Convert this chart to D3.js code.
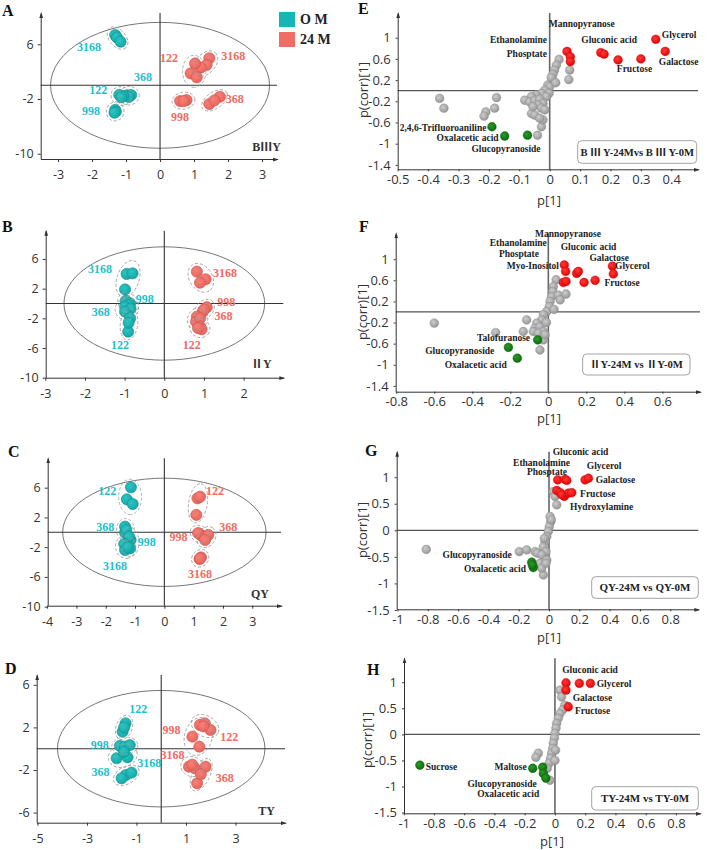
<!DOCTYPE html>
<html><head><meta charset="utf-8">
<script src="https://cdn.jsdelivr.net/npm/d3@7"></script>
<style>body{margin:0;background:#fff}</style>
</head><body>
<svg id="c" width="709" height="850"></svg>
<script>
// ---------- DATA ----------
const TIME_SERIES = ["O M", "24 M"];
// PCA score points: [sample, t[1], t[2]]
const A_0M = [["3168",-1.32,7.35],["3168",-1.27,7.0],["3168",-1.16,6.38],["368",-0.97,-1.45],["368",-0.85,-1.42],["368",-0.92,-1.7],["122",-1.2,-1.4],["122",-1.08,-1.55],["122",-1.14,-1.75],["998",-1.32,-3.6],["998",-1.3,-3.85],["998",-1.34,-4.0]];
const A_24M = [["3168",1.45,3.95],["3168",1.37,2.97],["3168",1.2,2.6],["122",1.03,3.2],["122",0.9,1.75],["122",1.08,1.17],["998",0.59,-2.3],["998",0.78,-2.15],["998",0.7,-2.3],["368",1.76,-1.67],["368",1.45,-2.73],["368",1.6,-2.2]];
const B_0M = [["3168",-0.95,3.98],["3168",-0.8,4.07],["3168",-0.99,1.9],["998",-0.97,0.38],["998",-0.86,0.02],["998",-0.9,-0.2],["368",-0.99,-0.43],["368",-0.85,-0.7],["368",-0.99,-1.1],["122",-0.86,-2.0],["122",-0.91,-3.8],["122",-0.9,-2.6]];
const B_24M = [["3168",0.82,4.29],["3168",1.04,3.26],["3168",0.9,2.8],["998",1.07,-0.5],["998",0.97,-1.1],["998",1.0,-0.8],["368",0.82,-1.77],["368",0.8,-2.45],["368",0.9,-2.0],["122",0.9,-3.1],["122",0.94,-3.48],["122",0.85,-3.3]];
const C_0M = [["122",-1.14,6.05],["122",-1.28,4.43],["122",-1.08,3.8],["368",-1.34,0.76],["368",-1.34,-0.05],["368",-1.3,0.3],["998",-1.15,-1.04],["998",-1.2,-0.6],["998",-1.17,-2.16],["3168",-1.37,-1.58],["3168",-1.34,-2.38],["3168",-1.25,-2.0]];
const C_24M = [["122",1.13,4.57],["122",1.22,4.79],["122",1.09,2.34],["998",1.2,-0.22],["998",1.25,-0.4],["998",1.15,-0.1],["368",1.42,-0.58],["368",1.5,-0.36],["368",1.39,-1.03],["3168",1.25,-3.37],["3168",1.2,-3.6],["3168",1.22,-3.5]];
const D_0M = [["122",-1.44,2.38],["122",-1.56,1.6],["122",-1.5,2.0],["998",-1.67,0.26],["998",-1.47,0.2],["998",-1.27,0.34],["3168",-1.8,-0.9],["3168",-1.36,-0.81],["3168",-1.5,-0.3],["368",-1.43,-2.47],["368",-1.6,-2.78],["368",-1.2,-2.25]];
const D_24M = [["122",1.56,2.23],["122",1.76,2.38],["122",1.99,1.76],["998",1.26,1.13],["998",1.54,0.19],["998",1.7,2.1],["3168",1.12,-1.69],["3168",1.36,-1.84],["3168",1.25,-1.5],["368",1.79,-1.69],["368",1.45,-3.25],["368",1.6,-2.4]];
// sample-name labels: [text, t1, t2]
const A_LAB0 = [["3168",-2.09,5.6],["368",-0.5,1.21],["122",-1.82,-0.69],["998",-2.03,-3.76]];
const A_LAB24 = [["122",0.26,3.99],["3168",2.15,4.28],["998",0.59,-4.63],["368",2.2,-2.0]];
const B_LAB0 = [["3168",-1.62,4.74],["998",-0.49,0.7],["368",-1.6,-1.1],["122",-1.12,-5.59]];
const B_LAB24 = [["3168",1.53,4.07],["998",1.56,0.24],["368",1.49,-1.68],["122",0.69,-5.59]];
const C_LAB0 = [["122",-1.95,5.55],["368",-2.02,0.75],["998",-0.6,-1.26],["3168",-1.68,-4.49]];
const C_LAB24 = [["122",1.73,5.55],["368",2.18,0.75],["998",0.48,-0.59],["3168",1.22,-5.6]];
const D_LAB0 = [["122",-0.93,3.7],["998",-2.48,0.41],["3168",-0.48,-1.37],["368",-2.45,-2.16]];
const D_LAB24 = [["998",0.42,1.76],["122",2.75,1.13],["3168",0.46,-0.59],["368",2.57,-2.78]];
// Hotelling ellipse half-axes [t1, t2]
const A_ELL = [3.22,9.2], B_ELL = [2.53,7.64], C_ELL = [3.47,7.28], D_ELL = [4.19,5.47];
// PCA tick labels
const A_XT = [-3,-2,-1,0,1,2,3], A_YT = [6,-2,-10];
const B_XT = [-3,-2,-1,0,1,2], B_YT = [6,2,-2,-6,-10];
const C_XT = [-4,-3,-2,-1,0,1,2,3], C_YT = [6,2,-2,-6,-10];
const D_XT = [-5,-3,-1,1,3], D_YT = [6,2,-2,-6];

// S-plot loadings: [p[1], p(corr)[1]]
const E_GRAY = [[-0.362,-0.145],[-0.348,-0.33],[-0.175,-0.13],[-0.181,-0.33],[-0.21,-0.4],[-0.216,-0.48],[-0.04,-0.84],[-0.027,-0.68],[-0.022,-0.55],[-0.06,-0.43],[0.031,0.59],[0.022,0.48],[0.016,0.39],[0.011,0.31],[0.009,0.21],[-0.006,0.11],[0.0,0.075],[-0.016,0.01],[-0.002,-0.05],[-0.027,-0.05],[-0.044,-0.08],[-0.011,-0.11],[-0.06,-0.11],[-0.082,-0.18],[-0.066,-0.21],[-0.049,-0.18],[-0.033,-0.16],[-0.022,-0.24],[-0.038,-0.27],[-0.055,-0.30],[-0.027,-0.33],[-0.016,-0.36],[-0.049,-0.46],[-0.033,-0.52],[0.066,0.39],[0.063,0.21],[0.005,0.25],[0.02,0.15]];
const E_RED = [[0.057,0.74],[0.068,0.64],[0.068,0.55],[0.168,0.72],[0.179,0.69],[0.225,0.58],[0.30,0.60],[0.349,0.97],[0.38,0.74]];
const E_GREEN = [[-0.19,-0.68],[-0.148,-0.855],[-0.073,-0.84]];
const F_GRAY = [[-0.6,-0.21],[-0.277,-0.39],[-0.114,-0.15],[-0.132,-0.37],[-0.044,-0.72],[-0.026,-0.53],[0.041,0.61],[0.026,0.48],[0.023,0.39],[0.018,0.29],[0.053,0.32],[0.062,0.23],[0.093,0.34],[0.009,0.2],[0.005,0.1],[-0.008,0.01],[-0.026,-0.05],[-0.035,-0.15],[-0.061,-0.21],[-0.07,-0.31],[-0.079,-0.37],[-0.044,-0.28],[-0.026,-0.37],[-0.053,-0.40],[-0.017,-0.43],[0.03,0.05],[-0.01,-0.2]];
const F_RED = [[0.084,0.89],[0.091,0.77],[0.079,0.56],[0.093,0.58],[0.149,0.73],[0.158,0.77],[0.188,0.56],[0.246,0.6],[0.337,0.87],[0.342,0.72]];
const F_GREEN = [[-0.21,-0.67],[-0.163,-0.875],[-0.056,-0.53]];
const G_GRAY = [[-0.81,-0.36],[-0.196,-0.40],[-0.147,-0.37],[-0.092,-0.4],[-0.077,-0.43],[-0.037,-0.84],[0.028,0.73],[0.04,0.64],[0.051,0.48],[0.007,0.26],[0.011,0.16],[0.002,0.07],[-0.005,-0.02],[-0.015,-0.12],[-0.026,-0.21],[-0.038,-0.31],[-0.02,-0.40],[-0.048,-0.46],[-0.015,-0.56],[-0.059,-0.62],[-0.048,-0.71],[0.015,0.2],[-0.03,-0.15],[-0.02,-0.62]];
const G_RED = [[0.057,0.95],[0.106,0.96],[0.117,0.94],[0.238,0.95],[0.26,0.98],[0.051,0.75],[0.073,0.71],[0.101,0.64],[0.127,0.70],[0.15,0.71],[0.084,0.67]];
const G_GREEN = [[-0.114,-0.6],[-0.104,-0.70],[-0.11,-0.65]];
const H_GRAY = [[0.033,0.85],[0.044,0.72],[0.066,0.56],[0.051,0.47],[0.033,0.40],[0.022,0.31],[0.011,0.21],[0.007,0.12],[0,0.02],[-0.004,-0.07],[-0.011,-0.17],[-0.015,-0.27],[-0.022,-0.36],[-0.029,-0.46],[-0.038,-0.55],[-0.051,-0.65],[-0.033,-0.88],[-0.11,-0.36],[-0.126,-0.44],[0.004,-0.3],[0.0,-0.5]];
const H_RED = [[0.073,0.99],[0.161,0.98],[0.234,0.98],[0.073,0.85],[0.088,0.53]];
const H_GREEN = [[-0.893,-0.59],[-0.147,-0.65],[-0.081,-0.63],[-0.077,-0.75],[-0.06,-0.84]];
// metabolite labels: [text, p1, pcorr, anchor]
const E_LAB = [["Mannopyranose",-0.003,1.26,"start"],["Ethanolamine",-0.009,0.97,"end"],["Phosptate",-0.009,0.69,"end"],["Gluconic acid",0.104,0.97,"start"],["Glycerol",0.369,1.05,"start"],["Galactose",0.359,0.54,"start"],["Fructose",0.221,0.42,"start"],["2,4,6-Trifluoroaniline",-0.208,-0.69,"end"],["Oxalacetic acid",-0.168,-0.89,"end"],["Glucopyranoside",-0.03,-1.1,"end"]];
const F_LAB = [["Mannopyranose",-0.07,1.49,"start"],["Ethanolamine",-0.008,1.32,"end"],["Phosptate",-0.049,1.11,"end"],["Myo-Inositol",0.056,0.88,"end"],["Gluconic acid",0.065,1.24,"start"],["Galactose",0.216,1.03,"start"],["Glycerol",0.351,0.87,"start"],["Fructose",0.295,0.56,"start"],["Talofuranose",-0.096,-0.48,"end"],["Glucopyranoside",-0.284,-0.74,"end"],["Oxalacetic acid",-0.219,-0.99,"end"]];
const G_LAB = [["Gluconic acid",0.024,1.48,"start"],["Ethanolamine",0.139,1.28,"end"],["Phosptate",0.119,1.11,"end"],["Glycerol",0.249,1.22,"start"],["Galactose",0.308,0.95,"start"],["Fructose",0.205,0.69,"start"],["Hydroxylamine",0.139,0.45,"start"],["Glucopyranoside",-0.246,-0.45,"end"],["Oxalacetic acid",-0.152,-0.73,"end"]];
const H_LAB = [["Gluconic acid",0.048,1.24,"start"],["Glycerol",0.276,0.97,"start"],["Galactose",0.117,0.70,"start"],["Fructose",0.132,0.45,"start"],["Sucrose",-0.855,-0.61,"start"],["Maltose",-0.187,-0.62,"end"],["Glucopyranoside",-0.121,-0.94,"end"],["Oxalacetic acid",-0.104,-1.14,"end"]];
const EF_XT_E = [-0.5,-0.4,-0.3,-0.2,-0.1,0,0.1,0.2,0.3,0.4];
const EF_XT_F = [-0.8,-0.6,-0.4,-0.2,0,0.2,0.4,0.6];
const EF_YT = [1,0.6,0.2,-0.2,-0.6,-1,-1.4];
const GH_XT = [-1,-0.8,-0.6,-0.4,-0.2,0,0.2,0.4,0.6,0.8];
const GH_YT = [1,0.5,0,-0.5,-1,-1.5];
const COMPARISONS = ["B Ⅲ Y-24Mvs B Ⅲ Y-0M","ⅡY-24M vs ⅡY-0M","QY-24M vs QY-0M","TY-24M vs TY-0M"];

// ---------- DRAW ----------
const svg = d3.select("#c");
svg.append("rect").attr("width",709).attr("height",850).attr("fill","#fff");
const defs = svg.append("defs");
defs.append("marker").attr("id","arr").attr("viewBox","0 0 8 8").attr("refX",6).attr("refY",4)
  .attr("markerWidth",6).attr("markerHeight",6).attr("orient","auto").attr("markerUnits","userSpaceOnUse")
  .append("path").attr("d","M0,1.5L8,4L0,6.5z").attr("fill","#333");
function grad(id,c0,c1){
  const gr = defs.append("radialGradient").attr("id",id).attr("cx","40%").attr("cy","38%").attr("r","65%");
  gr.append("stop").attr("offset","0%").attr("stop-color",c0);
  gr.append("stop").attr("offset","100%").attr("stop-color",c1);
}
grad("gGray","#cccccc","#949494");
grad("gRed","#ff3a3a","#e50000");
grad("gGreen","#2a9a2a","#0c6a0c");
grad("gTeal","#2cc6c4","#14a6a4");
grad("gSal","#f4827a","#e9625a");

const TEAL = "#17b6b6", SAL = "#ef6d65", TEAL_T = "#1fbfca", SAL_T = "#f06b61";
const SERIF = "'Liberation Serif','Times New Roman',serif";
const SANS = "'Open Sans','DejaVu Sans',sans-serif";
const ROMAN = "'Noto Sans CJK SC','Noto Sans CJK JP',serif";

// text with Roman numerals rendered in a CJK font
function rich(sel, str){
  str.split(/([ⅡⅢ])/).filter(s=>s.length).forEach(s=>{
    const t = sel.append("tspan").text(s);
    if (/[ⅡⅢ]/.test(s)) t.attr("font-family",ROMAN).attr("font-weight","bold");
  });
}

function styleAxis(a, fs){
  a.attr("font-family",SANS).attr("font-size",fs);
  a.selectAll("text").attr("fill","#333");
  a.selectAll("line").attr("stroke","#333");
  a.select(".domain").attr("stroke","#333").attr("marker-end","url(#arr)");
}

function drawPCA(c){
  const g = svg.append("g");
  const x = d3.scaleLinear().domain(c.xd).range(c.xr);
  const y = d3.scaleLinear().domain(c.yd).range(c.yr);
  g.append("ellipse").attr("cx",x(0)).attr("cy",y(0)).attr("rx",x(c.ell[0])-x(0)).attr("ry",y(0)-y(c.ell[1]))
    .attr("fill","none").attr("stroke","#666").attr("stroke-width",0.9);
  g.append("line").attr("x1",x(0)).attr("x2",x(0)).attr("y1",c.yr[1]).attr("y2",c.yr[0]).attr("stroke","#333").attr("stroke-width",1.1);
  g.append("line").attr("x1",c.xr[0]).attr("x2",c.xr[1]).attr("y1",y(0)).attr("y2",y(0)).attr("stroke","#333").attr("stroke-width",1.1);
  const xa = g.append("g").attr("transform",`translate(0,${c.yr[0]})`)
    .call(d3.axisBottom(x).tickValues(c.xt).tickSize(3).tickSizeOuter(0).tickPadding(8).tickFormat(d=>String(d)));
  styleAxis(xa,12.5);
  const ya = g.append("g").attr("transform",`translate(${c.xr[0]},0)`)
    .call(d3.axisLeft(y).tickValues(c.yt).tickSize(3).tickSizeOuter(0).tickPadding(4).tickFormat(d=>String(d)));
  styleAxis(ya,12.5);
  const R = 5.6;
  [[c.d0,"url(#gTeal)","#0f9190"],[c.d24,"url(#gSal)","#c9554e"]].forEach(([data,fill,stroke])=>{
    g.append("g").selectAll("circle").data(data).join("circle")
      .attr("cx",d=>x(d[1])).attr("cy",d=>y(d[2])).attr("r",R)
      .attr("fill",fill).attr("stroke",stroke).attr("stroke-width",0.6);
  });
  [c.d0,c.d24].forEach(data=>{
    d3.group(data,d=>d[0]).forEach(pts=>{
      const P = pts.map(d=>[x(d[1]),y(d[2])]);
      const mx = d3.mean(P,p=>p[0]), my = d3.mean(P,p=>p[1]);
      let sxx=0,syy=0,sxy=0;
      P.forEach(p=>{const dx=p[0]-mx,dy=p[1]-my;sxx+=dx*dx;syy+=dy*dy;sxy+=dx*dy;});
      const th = 0.5*Math.atan2(2*sxy,sxx-syy);
      const ct=Math.cos(th), st=Math.sin(th);
      let mu=0,mv=0;
      P.forEach(p=>{const dx=p[0]-mx,dy=p[1]-my;mu=Math.max(mu,Math.abs(dx*ct+dy*st));mv=Math.max(mv,Math.abs(-dx*st+dy*ct));});
      g.append("ellipse").attr("transform",`translate(${mx},${my}) rotate(${th*180/Math.PI})`)
        .attr("rx",mu+R+2.5).attr("ry",mv+R+2.5).attr("fill","none")
        .attr("stroke","#9a9a9a").attr("stroke-width",0.8).attr("stroke-dasharray","3,2");
    });
  });
  [[c.l0,TEAL_T],[c.l24,SAL_T]].forEach(([labs,col])=>{
    g.append("g").selectAll("text").data(labs).join("text")
      .attr("x",d=>x(d[1])).attr("y",d=>y(d[2])).attr("dy","0.35em").attr("text-anchor","middle")
      .attr("font-family",SERIF).attr("font-weight","bold").attr("font-size",12).attr("fill",col).text(d=>d[0]);
  });
  const tg = g.append("text").attr("x",c.tp[0]).attr("y",c.tp[1]).attr("dy","0.35em").attr("text-anchor","end")
    .attr("font-family",SERIF).attr("font-weight","bold").attr("font-size",12).attr("fill","#333");
  rich(tg, c.tag);
  g.append("text").attr("x",c.lp[0]).attr("y",c.lp[1]).attr("font-family",SERIF).attr("font-weight","bold")
    .attr("font-size",16).attr("fill","#111").text(c.letter);
}

function drawS(c){
  const g = svg.append("g");
  const x = d3.scaleLinear().domain(c.xd).range(c.xr);
  const y = d3.scaleLinear().domain(c.yd).range(c.yr);
  g.append("line").attr("x1",x(0)).attr("x2",x(0)).attr("y1",c.yr[1]).attr("y2",c.yr[0]).attr("stroke","#666").attr("stroke-width",1.6);
  g.append("line").attr("x1",c.xr[0]).attr("x2",c.xr[1]).attr("y1",y(0)).attr("y2",y(0)).attr("stroke","#555").attr("stroke-width",1.2);
  const xa = g.append("g").attr("transform",`translate(0,${c.yr[0]})`)
    .call(d3.axisBottom(x).tickValues(c.xt).tickSize(2).tickSizeOuter(0).tickPadding(3).tickFormat(d=>String(d)));
  styleAxis(xa,13);
  const ya = g.append("g").attr("transform",`translate(${c.xr[0]},0)`)
    .call(d3.axisLeft(y).tickValues(c.yt).tickSize(2).tickSizeOuter(0).tickPadding(5).tickFormat(d=>String(d)));
  styleAxis(ya,13);
  const R = 4.4;
  [[c.gray,"url(#gGray)","#8a8a8a"],[c.red,"url(#gRed)","#d00000"],[c.green,"url(#gGreen)","#0a5f0a"]].forEach(([data,fill,st])=>{
    g.append("g").selectAll("circle").data(data).join("circle")
      .attr("cx",d=>x(d[0])).attr("cy",d=>y(d[1])).attr("r",R).attr("fill",fill).attr("stroke",st).attr("stroke-width",0.4);
  });
  g.append("g").selectAll("text").data(c.labs).join("text")
    .attr("x",d=>x(d[1])).attr("y",d=>y(d[2])).attr("dy","0.35em").attr("text-anchor",d=>d[3])
    .attr("font-family",SERIF).attr("font-weight","bold").attr("font-size",9.5).attr("fill","#222").text(d=>d[0]);
  // comparison box
  const b = c.box;
  g.append("rect").attr("x",b[0]).attr("y",b[1]).attr("width",b[2]).attr("height",b[3]).attr("rx",4)
    .attr("fill","#fff").attr("stroke","#999").attr("stroke-width",0.9);
  const bt = g.append("text").attr("x",b[0]+b[2]/2).attr("y",b[1]+b[3]/2).attr("dy","0.35em").attr("text-anchor","middle")
    .attr("font-family",SERIF).attr("font-weight","bold").attr("font-size",b[4]).attr("fill","#222");
  rich(bt, c.title);
  g.append("text").attr("x",c.xlab[0]).attr("y",c.xlab[1]).attr("dy","0.35em").attr("text-anchor","middle")
    .attr("font-family",SANS).attr("font-size",13).attr("fill","#333").text("p[1]");
  g.append("text").attr("transform",`translate(${c.ylab[0]},${c.ylab[1]}) rotate(-90)`).attr("dy","0.35em").attr("text-anchor","middle")
    .attr("font-family",SANS).attr("font-size",13).attr("fill","#333").text("p(corr)[1]");
  g.append("text").attr("x",c.lp[0]).attr("y",c.lp[1]).attr("font-family",SERIF).attr("font-weight","bold")
    .attr("font-size",16).attr("fill","#111").text(c.letter);
}

drawPCA({letter:"A",lp:[2,16],xd:[-3.51,3.44],xr:[40.7,277],yd:[-10.77,10.57],yr:[159,13],xt:A_XT,yt:A_YT,ell:A_ELL,tag:"BⅢY",tp:[281,147],d0:A_0M,d24:A_24M,l0:A_LAB0,l24:A_LAB24});
drawPCA({letter:"B",lp:[2,232],xd:[-2.99,3.0],xr:[45.7,283.3],yd:[-10,9.81],yr:[377.7,230.7],xt:B_XT,yt:B_YT,ell:B_ELL,tag:"ⅡY",tp:[271.7,363.3],d0:B_0M,d24:B_24M,l0:B_LAB0,l24:B_LAB24});
drawPCA({letter:"C",lp:[8,457],xd:[-3.98,3.98],xr:[47.7,281],yd:[-9.87,9.95],yr:[605.7,458.3],xt:C_XT,yt:C_YT,ell:C_ELL,tag:"QY",tp:[269,594],d0:C_0M,d24:C_24M,l0:C_LAB0,l24:C_LAB24});
drawPCA({letter:"D",lp:[5,674],xd:[-5.03,5.0],xr:[36.7,285],yd:[-6.95,6.92],yr:[822.7,675],xt:D_XT,yt:D_YT,ell:D_ELL,tag:"TY",tp:[275,811],d0:D_0M,d24:D_24M,l0:D_LAB0,l24:D_LAB24});

// legend
const lg = svg.append("g");
lg.selectAll("rect").data(TIME_SERIES).join("rect").attr("x",279).attr("y",(d,i)=>12+i*20).attr("width",16).attr("height",15).attr("fill",(d,i)=>i?SAL:TEAL);
lg.selectAll("text").data(TIME_SERIES).join("text").attr("x",300).attr("y",(d,i)=>19.5+i*20).attr("dy","0.35em")
  .attr("font-family",SERIF).attr("font-weight","bold").attr("font-size",14).attr("fill","#222").text(d=>d);

drawS({letter:"E",lp:[358,14],xd:[-0.5,0.488],xr:[397.7,698],yd:[-1.483,1.466],yr:[169.3,13],xt:EF_XT_E,yt:EF_YT,gray:E_GRAY,red:E_RED,green:E_GREEN,labs:E_LAB,box:[577.7,140.7,119,22.6,10.6],title:COMPARISONS[0],xlab:[549,200],ylab:[363,90]});
drawS({letter:"F",lp:[359,232],xd:[-0.803,0.798],xr:[395.7,700],yd:[-1.51,1.49],yr:[391.7,233.3],xt:EF_XT_F,yt:EF_YT,gray:F_GRAY,red:F_RED,green:F_GREEN,labs:F_LAB,box:[582.7,354,107.3,21,10.7],title:COMPARISONS[1],xlab:[549,418],ylab:[362,312]});
drawS({letter:"G",lp:[365,456],xd:[-1.005,0.985],xr:[396.7,698.3],yd:[-1.487,1.48],yr:[609.3,451.7],xt:GH_XT,yt:GH_YT,gray:G_GRAY,red:G_RED,green:G_GREEN,labs:G_LAB,box:[591.7,576.7,106.6,21.6,11],title:COMPARISONS[2],xlab:[549,637],ylab:[362,530]});
drawS({letter:"H",lp:[367,675],xd:[-0.998,0.959],xr:[404,700],yd:[-1.514,1.46],yr:[813.3,658.3],xt:GH_XT,yt:GH_YT,gray:H_GRAY,red:H_RED,green:H_GREEN,labs:H_LAB,box:[591.7,786.7,106.6,23.3,11],title:COMPARISONS[3],xlab:[552,841],ylab:[367,740]});
</script>
</body></html>
